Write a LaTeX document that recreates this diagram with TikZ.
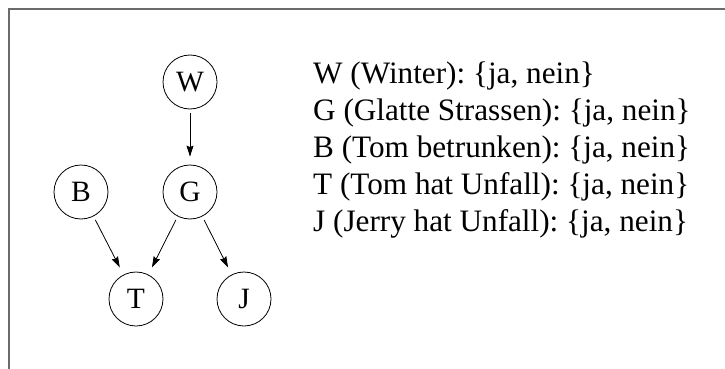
\documentclass[tikz,border=0pt]{standalone}
\usepackage{fontspec}
\setmainfont{Liberation Serif}
\usetikzlibrary{arrows.meta}
\frenchspacing
\tikzset{
  var/.style={draw=black, line width=0.8pt, circle, minimum size=54pt, inner sep=0pt, font=\fontsize{29.5}{34}\selectfont},
  edge/.style={draw=black, line width=0.8pt, -{Stealth[length=11pt,width=7pt,inset=1.5pt]}, shorten <=4pt, shorten >=8pt},
  info/.style={anchor=base west, inner sep=0pt, font=\frenchspacing\fontsize{31.2}{36}\selectfont},
  frameline/.style={draw=black!58, line width=1.5pt}
}
\begin{document}
\begin{tikzpicture}[x=1pt,y=-1pt]
\useasboundingbox (0,0) rectangle (725,369);
\coordinate (fr1) at (9,9);
\coordinate (fr2) at (725,9);
\coordinate (fr3) at (9,369);
\draw[frameline] (fr2) -- (fr1) -- (fr3);
\node[var] (W) at (190,82) {W};
\node[var] (G) at (190,192) {G};
\node[var] (B) at (81,192) {B};
\node[var] (T) at (136,299) {T};
\node[var] (J) at (244,299) {J};
\draw[edge] (W) -- (G);
\draw[edge] (B) -- (T);
\draw[edge] (G) -- (T);
\draw[edge] (G) -- (J);
\node[info] (l1) at (313,83) {W (Winter): \{ja, nein\}};
\node[info] (l2) at (313,120) {G (Glatte Strassen): \{ja, nein\}};
\node[info] (l3) at (313,157) {B (Tom betrunken): \{ja, nein\}};
\node[info] (l4) at (313,194) {T (Tom hat Unfall): \{ja, nein\}};
\node[info] (l5) at (313,231) {J (Jerry hat Unfall): \{ja, nein\}};
\end{tikzpicture}
\end{document}
